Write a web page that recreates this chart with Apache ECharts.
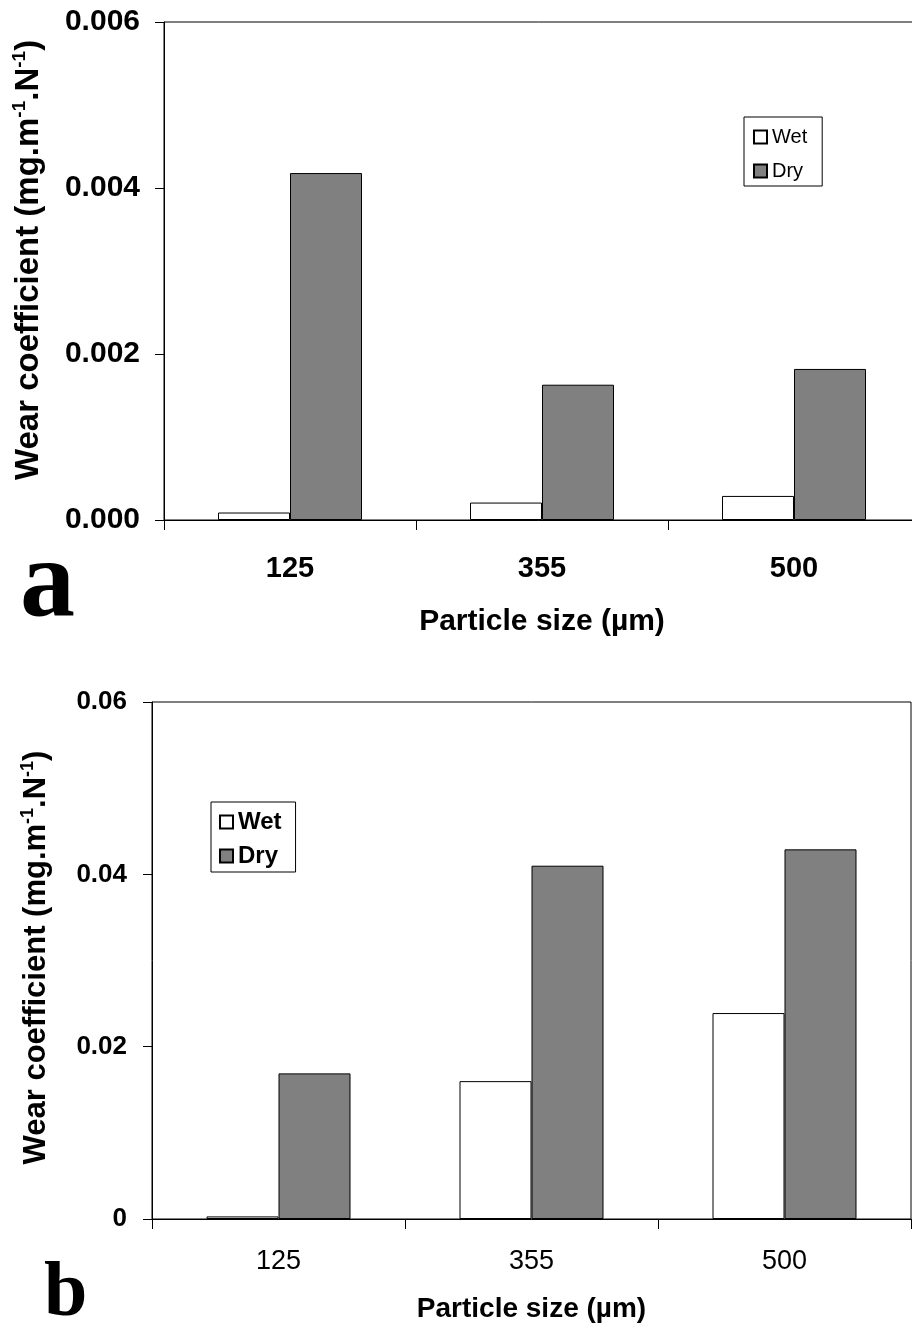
<!DOCTYPE html>
<html>
<head>
<meta charset="utf-8">
<script src="https://cdn.jsdelivr.net/npm/echarts@6/dist/echarts.min.js"></script>
<style>
html,body{margin:0;padding:0;background:#fff;}
#chart{width:912px;height:1325px;}
</style>
</head>
<body>
<div id="chart"></div>
<script>
// ---- data ----
const categories = ['125', '355', '500'];
const wetA = [0.00009, 0.00021, 0.00029];
const dryA = [0.00418, 0.00163, 0.00182];
const wetB = [0.0003, 0.0160, 0.0239];
const dryB = [0.0169, 0.0410, 0.0429];
const yTicksA = ['0.000', '0.002', '0.004', '0.006'];
const yTicksB = ['0', '0.02', '0.04', '0.06'];
const seriesNames = ['Wet', 'Dry'];
const panelLetters = ['a', 'b'];

const FONT = '"Liberation Sans", Arial, sans-serif';
const SERIF = '"Liberation Serif", "Times New Roman", serif';

const chart = echarts.init(document.getElementById('chart'), null, {renderer: 'canvas'});

function yName() {
  return '{t|Wear coefficient (mg.m}{s|-1}{t|.N}{s|-1}{t|)}';
}
function yNameStyle(size, sup, pad) {
  return {
    fontFamily: FONT, fontWeight: 'bold', color: '#000',
    padding: pad,
    rich: {
      t: {fontFamily: FONT, fontWeight: 'bold', fontSize: size, color: '#000', lineHeight: size + 4},
      s: {fontFamily: FONT, fontWeight: 'bold', fontSize: sup, color: '#000', verticalAlign: 'top', lineHeight: sup}
    }
  };
}

const barStyleWet = {color: '#ffffff', borderColor: '#000', borderWidth: 1};
const barStyleDry = {color: '#808080', borderColor: '#000', borderWidth: 1};

const option = {
  backgroundColor: '#fff',
  animation: false,
  grid: [
    {left: 164, top: 22, width: 756, height: 498, show: true, borderColor: '#000', borderWidth: 1, containLabel: false, outerBoundsMode: 'none'},
    {left: 152, top: 702, width: 759, height: 517, show: true, borderColor: '#000', borderWidth: 1, containLabel: false, outerBoundsMode: 'none'}
  ],
  legend: [
    {
      data: seriesNames, orient: 'vertical', left: 744, top: 117,
      padding: [10, 15, 5, 9], itemGap: 14, icon: 'rect',
      itemWidth: 13, itemHeight: 13,
      borderColor: '#000', borderWidth: 1, backgroundColor: '#fff',
      textStyle: {fontFamily: FONT, fontSize: 20, lineHeight: 20, color: '#000'},
      selectedMode: false
    },
    {
      data: seriesNames, orient: 'vertical', left: 211, top: 802,
      padding: [8, 14, 4, 8], itemGap: 10, icon: 'rect',
      itemWidth: 13, itemHeight: 13,
      borderColor: '#000', borderWidth: 1, backgroundColor: '#fff',
      textStyle: {fontFamily: FONT, fontSize: 24, lineHeight: 24, fontWeight: 'bold', color: '#000'},
      selectedMode: false
    }
  ],
  xAxis: [
    {
      type: 'category', gridIndex: 0, data: categories,
      axisLine: {lineStyle: {color: '#000', width: 1}},
      axisTick: {show: true, length: 10, lineStyle: {color: '#000'}},
      axisLabel: {fontFamily: FONT, fontWeight: 'bold', fontSize: 29, color: '#000', margin: 34},
      name: 'Particle size (µm)', nameLocation: 'middle', nameGap: 87,
      nameTextStyle: {fontFamily: FONT, fontWeight: 'bold', fontSize: 30, color: '#000'}
    },
    {
      type: 'category', gridIndex: 1, data: categories,
      axisLine: {lineStyle: {color: '#000', width: 1}},
      axisTick: {show: true, length: 10, lineStyle: {color: '#000'}},
      axisLabel: {fontFamily: FONT, fontSize: 27, color: '#000', margin: 29},
      name: 'Particle size (µm)', nameLocation: 'middle', nameGap: 76,
      nameTextStyle: {fontFamily: FONT, fontWeight: 'bold', fontSize: 28, color: '#000'}
    }
  ],
  yAxis: [
    {
      type: 'value', gridIndex: 0, min: 0, max: 0.006, interval: 0.002,
      axisLine: {show: true, lineStyle: {color: '#000', width: 1}},
      axisTick: {show: true, length: 9, lineStyle: {color: '#000'}},
      splitLine: {show: false},
      axisLabel: {
        fontFamily: FONT, fontWeight: 'bold', fontSize: 30, color: '#000', margin: 24,
        formatter: v => yTicksA[Math.round(v / 0.002)]
      },
      name: yName(), nameLocation: 'middle', nameGap: 117, nameRotate: 90,
      nameTextStyle: yNameStyle(33, 19, [0, 0, 0, 22])
    },
    {
      type: 'value', gridIndex: 1, min: 0, max: 0.06, interval: 0.02,
      axisLine: {show: true, lineStyle: {color: '#000', width: 1}},
      axisTick: {show: true, length: 9, lineStyle: {color: '#000'}},
      splitLine: {show: false},
      axisLabel: {
        fontFamily: FONT, fontWeight: 'bold', fontSize: 26, color: '#000', margin: 25,
        formatter: v => yTicksB[Math.round(v / 0.02)]
      },
      name: yName(), nameLocation: 'middle', nameGap: 98, nameRotate: 90,
      nameTextStyle: yNameStyle(31, 18, [0, 0, 0, 6])
    }
  ],
  series: [
    {name: seriesNames[0], type: 'bar', xAxisIndex: 0, yAxisIndex: 0, data: wetA, barWidth: 72, barGap: '0%', itemStyle: barStyleWet},
    {name: seriesNames[1], type: 'bar', xAxisIndex: 0, yAxisIndex: 0, data: dryA, barWidth: 72, barGap: '0%', itemStyle: barStyleDry},
    {name: seriesNames[0], type: 'bar', xAxisIndex: 1, yAxisIndex: 1, data: wetB, barWidth: 72, barGap: '0%', itemStyle: barStyleWet},
    {name: seriesNames[1], type: 'bar', xAxisIndex: 1, yAxisIndex: 1, data: dryB, barWidth: 72, barGap: '0%', itemStyle: barStyleDry}
  ],
  graphic: [
    {type: 'text', left: 20, top: 532, style: {text: panelLetters[0], fontFamily: SERIF, fontWeight: 'bold', fontSize: 110, fill: '#000'}},
    {type: 'text', left: 44, top: 1256, style: {text: panelLetters[1], fontFamily: SERIF, fontWeight: 'bold', fontSize: 78, fill: '#000'}}
  ]
};
chart.setOption(option);
</script>
</body>
</html>
